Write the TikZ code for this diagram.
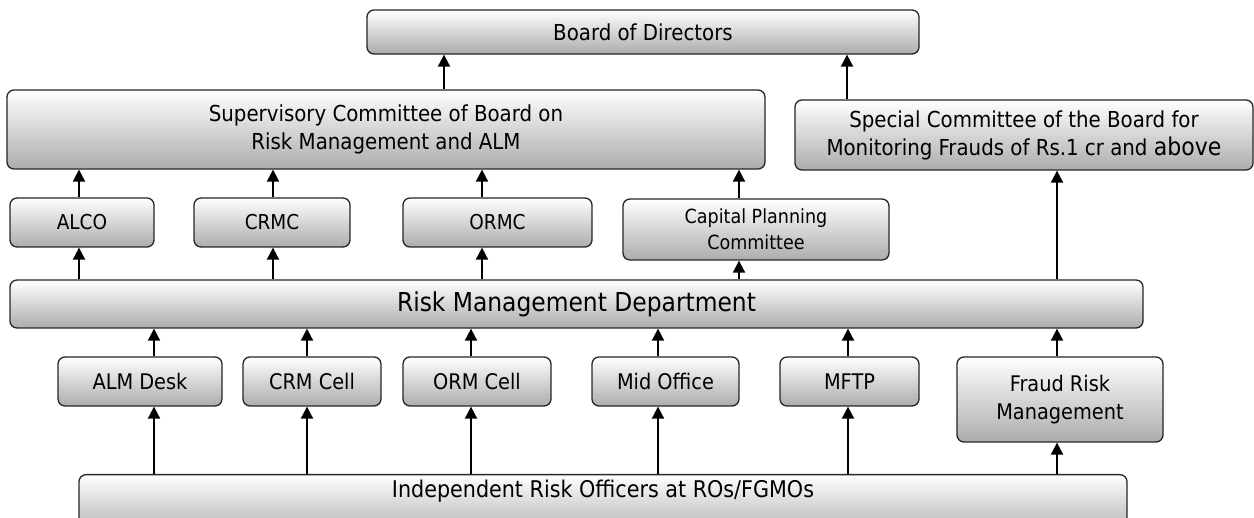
\documentclass[tikz,border=0pt]{standalone}
\usepackage{fontspec}
\setmainfont{DejaVu Sans Condensed}
\usetikzlibrary{arrows.meta}

\begin{document}
\begin{tikzpicture}[x=1pt,y=-1pt,>={Triangle[length=12pt,width=12pt]}]
      \tikzstyle{unit}=[draw=black!85,line width=1.3pt,rounded corners=7pt,top color=white,bottom color=gray!65,inner sep=0pt,align=center,font=\fontsize{21.5}{27.5}\selectfont]
      \tikzstyle{small unit}=[unit,font=\fontsize{19.5}{26}\selectfont]
      \tikzstyle{wide unit}=[unit,font=\fontsize{26}{30}\selectfont]
      \tikzstyle{link}=[->,line width=1.9pt]

      \useasboundingbox (0,0) rectangle (1254,518);

      % Draw the board and its committees
      \node[unit,font=\fontsize{22}{27.5}\selectfont,minimum width=552pt,minimum height=44pt] (BoD) at (643,32) {Board of Directors};
      \node[unit,font=\fontsize{22}{27.5}\selectfont,minimum width=758pt,minimum height=79pt] (SCB) at (386,129.5)
          {Supervisory Committee of Board on\\Risk Management and ALM};
      \node[unit,font=\fontsize{22}{28}\selectfont,minimum width=458pt,minimum height=70pt] (SPC) at (1024,135)
          {Special Committee of the Board for\\Monitoring Frauds of Rs.1 cr and {\fontsize{24.5}{28}\selectfont above}};

      % Draw the management committees
      \foreach \name / \x / \w in {ALCO/82/144,CRMC/272/156,ORMC/497.5/189}
          \node[unit,font=\fontsize{20.5}{26}\selectfont,minimum width=\w pt,minimum height=49pt] (\name) at (\x,222.5) {\name};
      \node[small unit,minimum width=266pt,minimum height=61pt] (CPC) at (756,229.5)
          {Capital Planning\\Committee};

      % Draw the department
      \node[wide unit,minimum width=1133pt,minimum height=48pt] (RMD) at (576.5,304) {Risk Management Department};

      % Draw the cells below the department
      \foreach \name / \x / \w / \txt in {ALMD/140/164/ALM Desk,CRMCell/312/138/CRM Cell,ORMCell/477/148/ORM Cell,MidO/665.5/147/Mid Office,MFTP/849.5/139/MFTP}
          \node[unit,minimum width=\w pt,minimum height=49pt] (\name) at (\x,381.5) {\txt};
      \node[unit,minimum width=206pt,minimum height=85pt] (FRM) at (1060,399.5) {Fraud Risk\\Management};

      % Draw the risk officers (box runs past the bottom edge)
      \node[unit,font=\fontsize{23}{27}\selectfont,anchor=north,minimum width=1048pt,text height=22.5pt,text depth=40pt] (IRO)
          at (603,474) {Independent Risk Officers at ROs/FGMOs};

      % Connect the committees to the board
      \draw[link] (SCB.north -| 444,0) -- (BoD.south -| 444,0);
      \draw[link] (SPC.north -| 847,0) -- (BoD.south -| 847,0);

      % Connect the department to the committees
      \foreach \name / \x in {ALCO/79,CRMC/273,ORMC/482,CPC/739}
      {
          \draw[link] (RMD.north -| \x,0) -- (\name.south -| \x,0);
          \draw[link] (\name.north -| \x,0) -- (SCB.south -| \x,0);
      }
      \draw[link] (RMD.north -| 1057,0) -- (SPC.south -| 1057,0);

      % Connect the officers through the cells to the department
      \foreach \name / \x in {ALMD/154,CRMCell/307,ORMCell/471,MidO/658,MFTP/848,FRM/1057}
      {
          \draw[link] (IRO.north -| \x,0) -- (\name.south -| \x,0);
          \draw[link] (\name.north -| \x,0) -- (RMD.south -| \x,0);
      }
\end{tikzpicture}
\end{document}
